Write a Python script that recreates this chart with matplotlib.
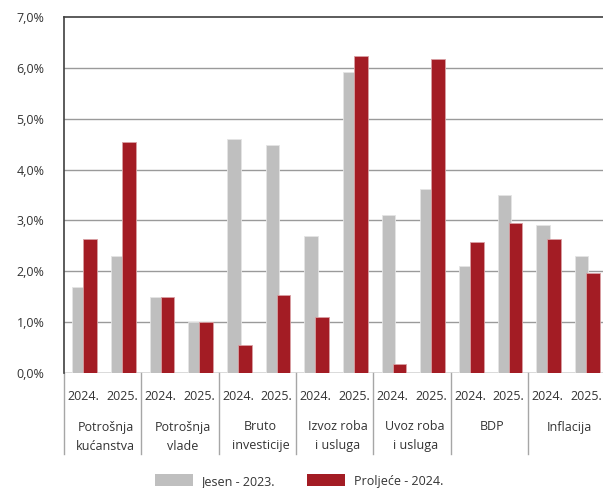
import matplotlib
matplotlib.use("Agg")
import matplotlib.pyplot as plt
import matplotlib.transforms as mtransforms
from matplotlib.patches import Patch

plt.rcParams['font.family'] = ['Open Sans', 'DejaVu Sans']

categories = [["Potrošnja", "kućanstva"], ["Potrošnja", "vlade"], ["Bruto", "investicije"],
              ["Izvoz roba", "i usluga"], ["Uvoz roba", "i usluga"], ["BDP"], ["Inflacija"]]
years = ["2024.", "2025."]
jesen_2023 = [1.70, 2.31, 1.50, 1.00, 4.60, 4.49, 2.69, 5.91, 3.10, 3.61, 2.11, 3.50, 2.91, 2.30]
proljece_2024 = [2.63, 4.55, 1.50, 1.00, 0.56, 1.53, 1.11, 6.23, 0.17, 6.18, 2.58, 2.94, 2.63, 1.97]
series_names = ["Jesen - 2023.", "Proljeće - 2024."]
yticks = [0, 1, 2, 3, 4, 5, 6, 7]

grey = "#bfbfbf"
red = "#a31c24"
txt = "#333333"

W, H = 603, 488
fig = plt.figure(figsize=(W / 100, H / 100), dpi=100)
left, right, top, bottom = 64, 605.3, 17, 373
ax = fig.add_axes([left / W, (H - bottom) / H, (right - left) / W, (bottom - top) / H])

n = len(jesen_2023)
centers = [i + 0.5 for i in range(n)]
bw = 0.35
ax.bar([c - 0.285 for c in centers], jesen_2023, width=bw, align='edge', color=grey,
       edgecolor='#e4e4e4', linewidth=0.6, zorder=3)
ax.bar(centers, proljece_2024, width=bw, align='edge', color=red,
       edgecolor='#d9a0a3', linewidth=0.6, zorder=4)

ax.set_xlim(0, n)
ax.set_ylim(0, 7)
ax.set_yticks(yticks)
ax.set_yticklabels([f"{v:.1f}%".replace('.', ',') for v in yticks], fontsize=9, color=txt)
ax.tick_params(axis='y', length=0, pad=14)
ax.set_xticks([])

for y in yticks[1:-1]:
    ax.axhline(y, color='#9a9a9a', linewidth=1.0, zorder=1)
ax.axhline(0, color='#d4d4d4', linewidth=1.2, zorder=2)

for s in ['right', 'bottom']:
    ax.spines[s].set_visible(False)
ax.spines['top'].set_color('#404040')
ax.spines['top'].set_linewidth(1.2)
ax.spines['left'].set_color('#404040')
ax.spines['left'].set_linewidth(1.2)

trans = mtransforms.blended_transform_factory(ax.transData, ax.transAxes)
ph = bottom - top
sep_bottom = -(454 - bottom) / ph
for g in range(len(categories) + 1):
    ax.plot([2 * g, 2 * g], [0, sep_bottom], transform=trans, color='#a6a6a6',
            linewidth=1.0, clip_on=False)

y_year = -(397 - bottom) / ph
y_l1 = -(427 - bottom) / ph
y_l2 = -(446 - bottom) / ph
for i, c in enumerate(centers):
    ax.text(c, y_year, years[i % 2], transform=trans, ha='center', va='center',
            fontsize=9, color=txt)
for g, lines in enumerate(categories):
    gx = 2 * g + 1 + 0.08
    ax.text(gx, y_l1, lines[0], transform=trans, ha='center', va='center', fontsize=9, color=txt)
    if len(lines) > 1:
        ax.text(gx, y_l2, lines[1], transform=trans, ha='center', va='center', fontsize=9, color=txt)

handles = [Patch(facecolor=grey, edgecolor='none'), Patch(facecolor=red, edgecolor='none')]
fig.legend(handles, series_names, loc='center', bbox_to_anchor=(299 / W, (H - 481) / H),
           ncol=2, frameon=False, fontsize=9, handlelength=3.0, handleheight=1.1,
           handletextpad=0.7, columnspacing=2.6, labelcolor=txt)

fig.savefig("out.png", dpi=100)
